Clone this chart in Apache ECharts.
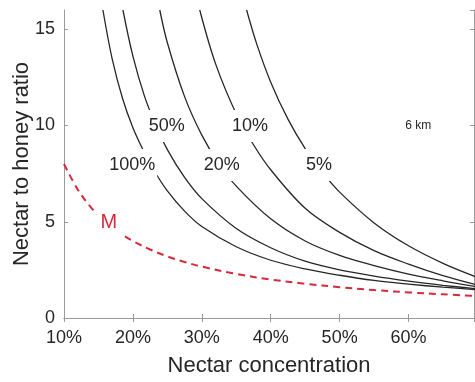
<!DOCTYPE html>
<html>
<head>
<meta charset="utf-8">
<script src="https://cdn.jsdelivr.net/npm/echarts@6/dist/echarts.min.js"></script>
<style>
html,body{margin:0;padding:0;background:#fff;}
#chart{width:475px;height:382px;}
</style>
</head>
<body>
<div id="chart"></div>
<script>
// Nectar concentration (%) / nectar-to-honey ratio
const c100x = [15.65, 17, 18.5, 20, 21.5, 23, 25, 27.5, 30, 35, 40, 45, 50, 55, 60, 65, 70];
const c100y = [16, 13.45, 11.4, 9.88, 8.71, 7.7, 6.6, 5.55, 4.75, 3.7, 3.0, 2.55, 2.22, 1.95, 1.76, 1.6, 1.47];
const c50x = [18.55, 20, 21.7, 23.35, 25, 27.5, 30, 35, 40, 45, 50, 55, 60, 65, 70];
const c50y = [16, 13.6, 11.5, 10.0, 8.75, 7.3, 6.2, 4.65, 3.65, 2.95, 2.5, 2.18, 1.92, 1.7, 1.51];
const c20x = [23.9, 25, 27.5, 30, 32.5, 35, 40, 45, 50, 55, 60, 65, 70];
const c20y = [16, 14.3, 11.5, 9.5, 8.0, 6.85, 5.15, 4.0, 3.25, 2.72, 2.28, 1.93, 1.62];
const c10x = [29.7, 32, 35, 37.5, 40, 45, 50, 55, 60, 65, 70];
const c10y = [16, 13.2, 10.6, 9.0, 7.7, 5.7, 4.45, 3.5, 2.8, 2.2, 1.71];
const c5x = [36.5, 38, 40, 42.5, 45, 47.5, 50, 55, 60, 65, 70];
const c5y = [16, 14.2, 12.25, 10.33, 8.8, 7.56, 6.54, 4.94, 3.75, 2.84, 2.11];
const mX = [10, 12, 14, 16, 18, 20, 22.5, 25, 27.5, 30, 35, 40, 45, 50, 55, 60, 65, 70];
const mY = [8.0, 6.67, 5.71, 5.0, 4.44, 4.0, 3.56, 3.2, 2.91, 2.67, 2.29, 2.0, 1.78, 1.6, 1.45, 1.33, 1.23, 1.14];

const curveNames = ['100%', '50%', '20%', '10%', '5%'];
const curveX = [c100x, c50x, c20x, c10x, c5x];
const curveY = [c100y, c50y, c20y, c10y, c5y];
// contour label anchors (x %, ratio)
const labelX = [19.9, 24.9, 32.9, 37.0, 47.0];
const labelY = [7.95, 9.97, 7.95, 9.97, 7.95];
const mLabel = [16.5, 4.97];
const kmLabel = [61.4, 9.97];

const xTicks = [10, 20, 30, 40, 50, 60];
const yTicks = [0, 5, 10, 15];

const FONT = 'Liberation Sans, Arial, Helvetica, sans-serif';
const TXT = '#262626';
const AX = '#9a9a9a';

function pairs(xs, ys) { return xs.map((x, i) => [x, ys[i]]); }

const series = [];
curveNames.forEach((n, i) => {
  series.push({
    name: n, type: 'line', data: pairs(curveX[i], curveY[i]),
    showSymbol: false, symbol: 'none', smooth: 0.35, clip: true,
    lineStyle: { color: '#262626', width: 1.3 }, z: 2, silent: true
  });
});
series.push({
  name: 'M', type: 'line', data: pairs(mX, mY), showSymbol: false, symbol: 'none',
  smooth: 0.35, clip: true,
  lineStyle: { color: '#d62a3a', width: 2, type: [7, 5] }, z: 3, silent: true
});
function textSeries(points, names, size, color, bg, pad) {
  return {
    type: 'scatter', symbolSize: 1, z: 10, silent: true,
    itemStyle: { color: 'rgba(0,0,0,0)' },
    data: points.map((p, i) => ({ value: p, name: names[i] })),
    label: {
      show: true, position: 'inside', formatter: p => p.name,
      fontFamily: FONT, fontSize: size, color: color,
      textBorderWidth: 0, textBorderColor: 'transparent', opacity: 1,
      backgroundColor: bg, padding: pad
    },
    emphasis: { disabled: true }
  };
}
series.push(textSeries(labelX.map((x, i) => [x, labelY[i]]), curveNames, 18, TXT, '#fff', [7, 2]));
series.push(textSeries([mLabel], ['M'], 20, '#d62a3a', '#fff', [6, 4]));
series.push(textSeries([kmLabel], ['6 km'], 12, TXT, 'transparent', 0));

const chart = echarts.init(document.getElementById('chart'), null, { renderer: 'canvas' });
chart.setOption({
  animation: false,
  backgroundColor: '#fff',
  grid: { left: 64, top: 10, right: 1, bottom: 57, containLabel: false },
  xAxis: [{
    type: 'value', min: 10, max: 69.5, interval: 10,
    name: 'Nectar concentration', nameLocation: 'middle', nameGap: 37, nameMoveOverlap: false,
    nameTextStyle: { fontFamily: FONT, fontSize: 22, color: TXT },
    axisLine: { show: true, lineStyle: { color: AX } },
    axisTick: { show: true, inside: true, length: 4, lineStyle: { color: AX } },
    axisLabel: { formatter: v => (xTicks.includes(v) ? v + '%' : ''), showMaxLabel: false,
      fontFamily: FONT, fontSize: 18, color: TXT, margin: 11 },
    splitLine: { show: false }
  }, {
    type: 'value', min: 10, max: 69.5, interval: 10, position: 'top',
    axisLine: { show: true, lineStyle: { color: AX } },
    axisTick: { show: true, inside: true, length: 4, lineStyle: { color: AX } },
    axisLabel: { show: false }, splitLine: { show: false }
  }],
  yAxis: [{
    type: 'value', min: 0, max: 16, interval: 5,
    name: 'Nectar to honey ratio', nameLocation: 'middle', nameGap: 31, nameMoveOverlap: false,
    nameTextStyle: { fontFamily: FONT, fontSize: 22, color: TXT },
    axisLine: { show: true, lineStyle: { color: AX } },
    axisTick: { show: true, inside: true, length: 4, lineStyle: { color: AX } },
    axisLabel: { formatter: v => (yTicks.includes(v) ? String(v) : ''), showMaxLabel: false,
      fontFamily: FONT, fontSize: 18, color: TXT, margin: 9 },
    splitLine: { show: false }
  }, {
    type: 'value', min: 0, max: 16, interval: 5, position: 'right',
    axisLine: { show: true, lineStyle: { color: AX } },
    axisTick: { show: true, inside: true, length: 4, lineStyle: { color: AX } },
    axisLabel: { show: false }, splitLine: { show: false }
  }],
  series: series
});
</script>
</body>
</html>
